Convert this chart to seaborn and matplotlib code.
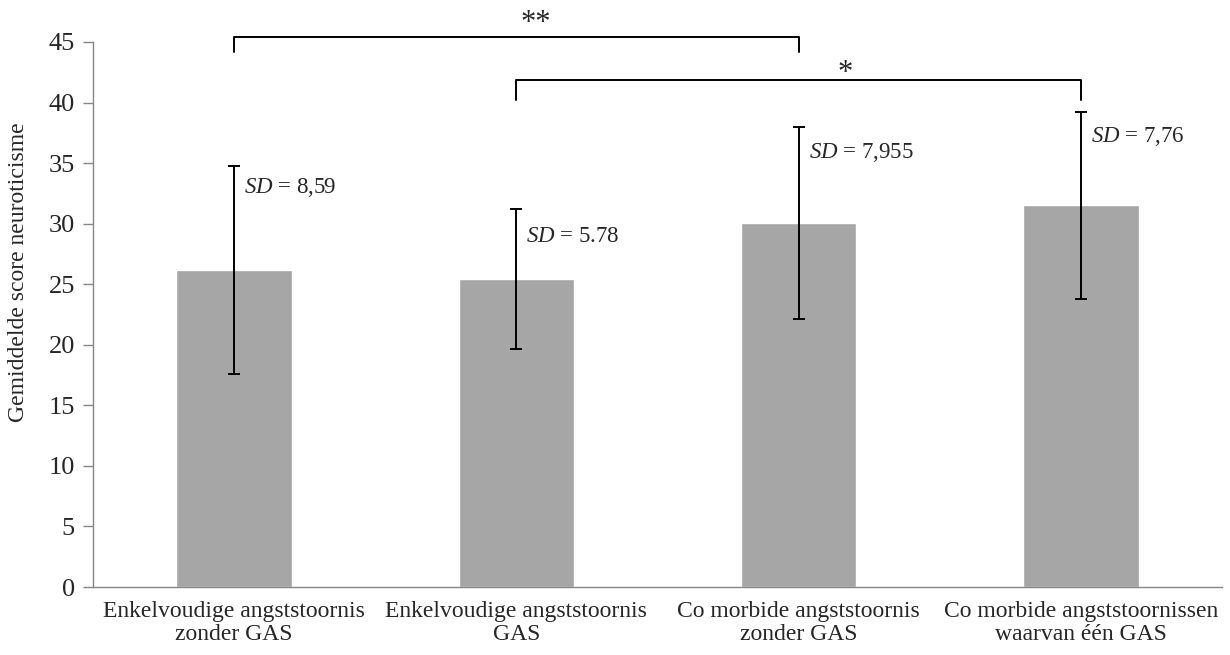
import matplotlib
matplotlib.use("Agg")
import matplotlib.pyplot as plt
import seaborn as sns
import pandas as pd

categories = ["Enkelvoudige angststoornis\nzonder GAS",
              "Enkelvoudige angststoornis\nGAS",
              "Co morbide angststoornis\nzonder GAS",
              "Co morbide angststoornissen\nwaarvan één GAS"]
means = [26.2, 25.4, 30.05, 31.5]
sds = [8.59, 5.78, 7.955, 7.76]
sd_labels = ["8,59", "5.78", "7,955", "7,76"]
sd_label_y = [33.0, 28.9, 35.9, 37.2]
y_ticks = [0, 5, 10, 15, 20, 25, 30, 35, 40, 45]
y_label = "Gemiddelde score neuroticisme"

# significance brackets: (from idx, to idx, bar height, leg bottom, label, label x offset, label y)
brackets = [(0, 2, 45.4, 44.2, "**", 0.07, 46.5),
            (1, 3, 41.9, 40.2, "*", 0.165, 42.4)]

sns.set_style("white")
plt.rcParams['font.family'] = ['Liberation Serif', 'DejaVu Serif']
plt.rcParams['mathtext.fontset'] = 'custom'
plt.rcParams['mathtext.it'] = 'Liberation Serif:italic'
plt.rcParams['mathtext.rm'] = 'Liberation Serif'

fig = plt.figure(figsize=(12.3, 6.55), dpi=100)
ax = fig.add_axes([0.0756, 0.1038, 0.9179, 0.8321])

df = pd.DataFrame({"cat": categories, "mean": means})
sns.barplot(data=df, x="cat", y="mean", color="#A6A6A6", saturation=1,
            width=0.41, errorbar=None, ax=ax)

xs = list(range(len(categories)))
ax.errorbar(xs, means, yerr=sds, fmt="none", ecolor="black",
            elinewidth=1.4, capsize=4.5, capthick=1.4)

for x, lab, yy in zip(xs, sd_labels, sd_label_y):
    ax.text(x + 0.035, yy, r"$\mathit{SD}$" + " = " + lab, fontsize=16.5,
            ha="left", va="center")

for a, b, h, low, lab, dx, ly in brackets:
    ax.plot([a, a, b, b], [low, h, h, low], color="black", lw=1.4,
            clip_on=False, solid_joinstyle="round")
    mid = (a + b) / 2 + dx
    ax.text(mid, ly, lab, fontsize=22, ha="center", va="center")

ax.set_xlim(-0.5, 3.5)
ax.set_ylim(0, 45)
ax.set_yticks(y_ticks)
ax.set_yticklabels([str(v) for v in y_ticks], fontsize=19)
ax.set_xticks(xs)
ax.set_xticklabels(categories, fontsize=17, linespacing=1.12)
ax.set_xticks([-0.5, 0.5, 1.5, 2.5, 3.5], minor=True)
ax.tick_params(axis="x", which="major", length=0, pad=10)
ax.tick_params(axis="x", which="minor", length=8, color="#868686", width=1, direction="out")
ax.tick_params(axis="y", length=7, color="#868686", width=1, direction="out", left=True, pad=6)
ax.set_xlabel("")
ax.set_ylabel(y_label, fontsize=17)
ax.yaxis.set_label_coords(-0.057, 0.578)

for s in ["top", "right"]:
    ax.spines[s].set_visible(False)
for s in ["left", "bottom"]:
    ax.spines[s].set_color("#868686")
    ax.spines[s].set_linewidth(1)

fig.savefig("out.png", dpi=100)
